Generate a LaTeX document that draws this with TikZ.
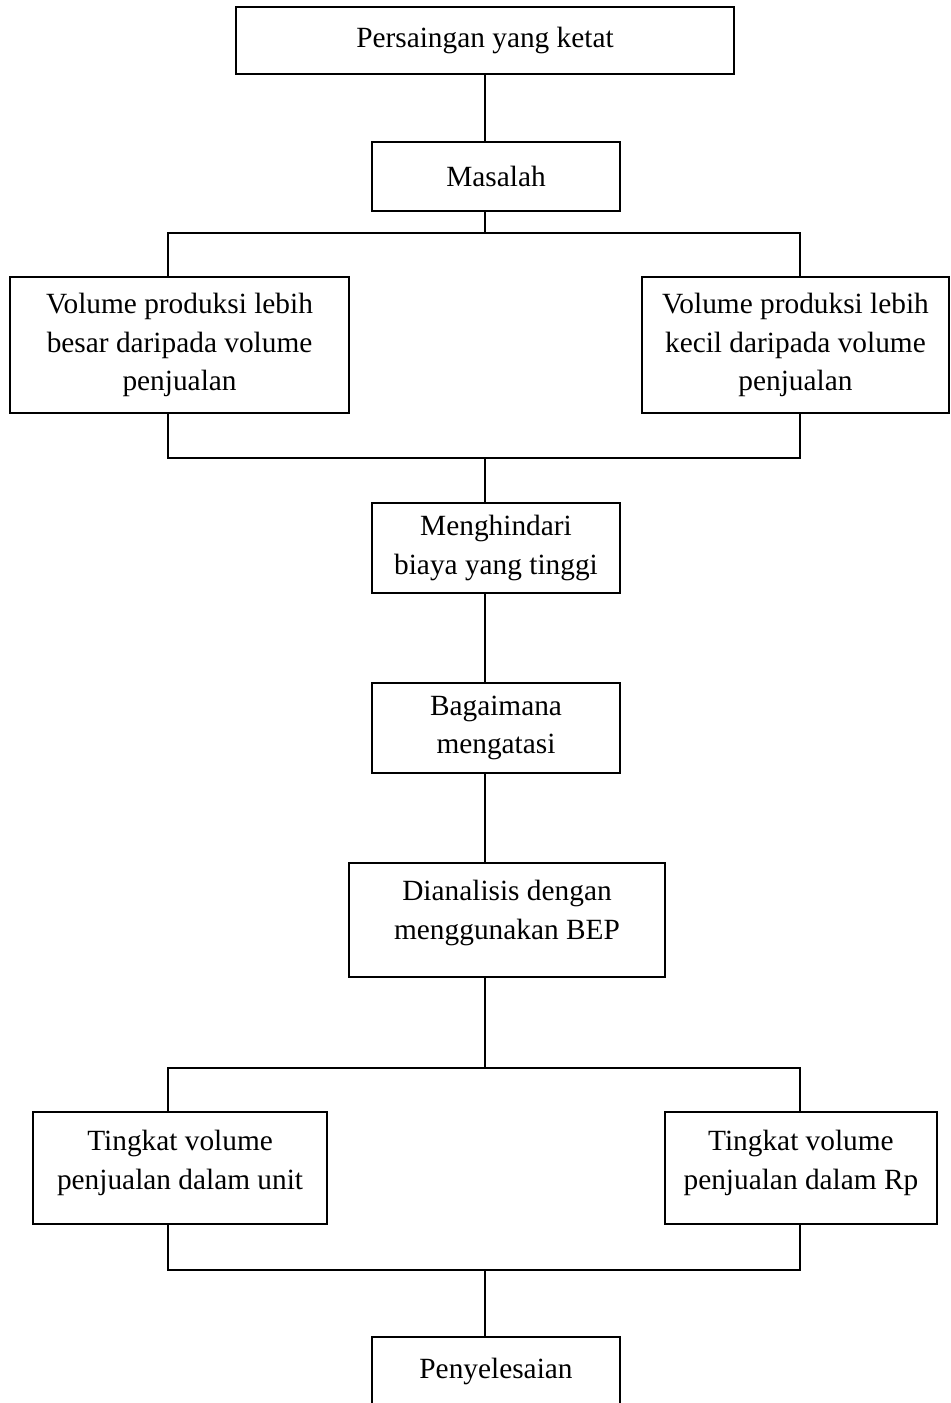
\documentclass[tikz,border=0pt]{standalone}
\usepackage{fontspec}
\setmainfont{Liberation Serif}
\usetikzlibrary{positioning}

\begin{document}
\begin{tikzpicture}[
  x=0.02cm, y=-0.02cm,
  box/.style={
    rectangle, draw, line width=1.1pt,
    align=center, inner sep=0pt, outer sep=0pt,
    font=\fontsize{16.7}{21.9}\selectfont
  },
  link/.style={line width=1.1pt}
]
\useasboundingbox (0,0) rectangle (950,1403);
\clip (0,0) rectangle (950,1403);

\node[box, minimum width=9.96cm, minimum height=1.34cm]
  (persaingan) at (485,40.5) {Persaingan yang ketat};

\node[box, minimum width=4.96cm, minimum height=1.38cm,
      below=1.36cm of persaingan, xshift=0.22cm]
  (masalah) {Masalah};

\node[box, minimum width=6.78cm, minimum height=2.72cm,
      below=1.32cm of masalah, xshift=-6.33cm]
  (besar) {Volume produksi lebih\\ besar daripada volume\\ penjualan};

\node[box, minimum width=6.14cm, minimum height=2.72cm,
      below=1.32cm of masalah, xshift=5.99cm]
  (kecil) {Volume produksi lebih\\ kecil daripada volume\\ penjualan};

\node[box, minimum width=4.96cm, minimum height=1.80cm,
      below=5.84cm of masalah]
  (hindari) {Menghindari\\ biaya yang tinggi};

\node[box, minimum width=4.96cm, minimum height=1.80cm,
      below=1.80cm of hindari]
  (atasi) {Bagaimana\\ mengatasi};

\node[box, minimum width=6.32cm, minimum height=2.28cm, text depth=0.41cm,
      below=1.80cm of atasi, xshift=0.22cm]
  (bep) {Dianalisis dengan\\ menggunakan BEP};

\node[box, minimum width=5.88cm, minimum height=2.24cm, text depth=0.32cm,
      below=2.70cm of bep, xshift=-6.54cm]
  (unit) {Tingkat volume\\ penjualan dalam unit};

\node[box, minimum width=5.44cm, minimum height=2.24cm, text depth=0.32cm,
      below=2.70cm of bep, xshift=5.88cm]
  (rupiah) {Tingkat volume\\ penjualan dalam Rp};

\node[box, minimum width=4.96cm, minimum height=1.38cm,
      below=7.20cm of bep, xshift=-0.22cm]
  (selesai) {Penyelesaian};

% garis penghubung
\coordinate (axis) at (485,0);
\coordinate (colL) at (168,233);
\coordinate (colR) at (800,233);
\coordinate (joinL) at (168,458);
\coordinate (joinR) at (800,458);
\coordinate (forkL) at (168,1068);
\coordinate (forkR) at (800,1068);
\coordinate (endL) at (168,1270);
\coordinate (endR) at (800,1270);

\draw[link] (persaingan.south -| axis) -- (masalah.north -| axis);
\draw[link] (masalah.south -| axis) -- (colL -| axis);
\draw[link] (colL |- besar.north) |- (colR) -- (colR |- kecil.north);
\draw[link] (joinL |- besar.south) |- (joinR) -- (joinR |- kecil.south);
\draw[link] (joinL -| axis) -- (hindari.north -| axis);

\foreach \from/\to in {hindari/atasi, atasi/bep}
  \draw[link] (\from.south -| axis) -- (\to.north -| axis);

\draw[link] (bep.south -| axis) -- (forkL -| axis);
\draw[link] (forkL |- unit.north) |- (forkR) -- (forkR |- rupiah.north);
\draw[link] (endL |- unit.south) |- (endR) -- (endR |- rupiah.south);
\draw[link] (endL -| axis) -- (selesai.north -| axis);
\end{tikzpicture}
\end{document}
